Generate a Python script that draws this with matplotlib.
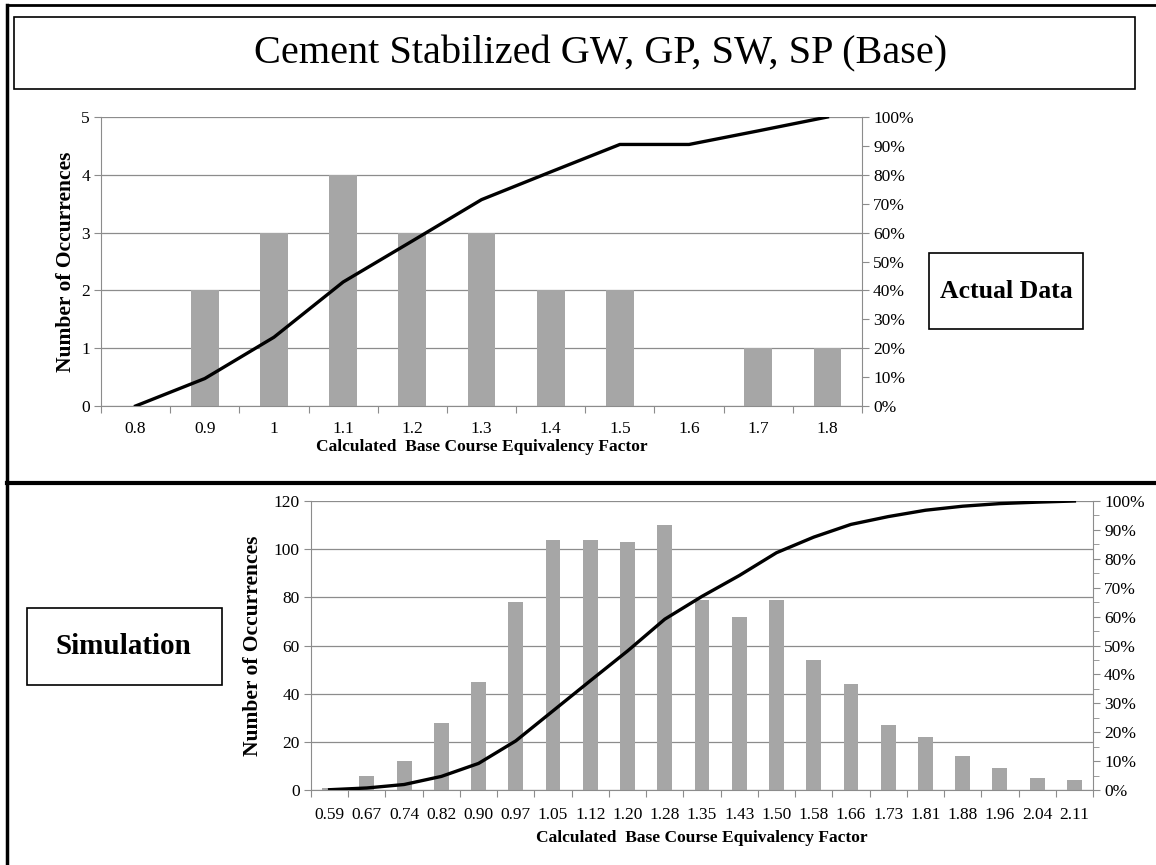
import numpy as np
import matplotlib
matplotlib.use("Agg")
import matplotlib.pyplot as plt
from matplotlib.patches import Rectangle
from matplotlib.lines import Line2D
from matplotlib.ticker import FixedLocator, MultipleLocator, PercentFormatter

plt.rcParams['font.family'] = ['Liberation Serif', 'DejaVu Serif']

# ---- data ----
actual_bins = ["0.8", "0.9", "1", "1.1", "1.2", "1.3", "1.4", "1.5", "1.6", "1.7", "1.8"]
actual_counts = [0, 2, 3, 4, 3, 3, 2, 2, 0, 1, 1]
actual_cum_pct = [0, 9.5, 23.8, 42.9, 57.1, 71.4, 81.0, 90.5, 90.5, 95.2, 100]

sim_bins = ["0.59", "0.67", "0.74", "0.82", "0.90", "0.97", "1.05", "1.12", "1.20", "1.28",
            "1.35", "1.43", "1.50", "1.58", "1.66", "1.73", "1.81", "1.88", "1.96", "2.04", "2.11"]
sim_counts = [1, 6, 12, 28, 45, 78, 104, 104, 103, 110,
              79, 72, 79, 54, 44, 27, 22, 14, 9, 5, 4]
sim_cum_pct = [0.1, 0.7, 1.9, 4.7, 9.2, 17.0, 27.4, 37.8, 48.1, 59.1,
               67.0, 74.2, 82.1, 87.5, 91.9, 94.6, 96.8, 98.2, 99.1, 99.6, 100]

W, H = 1156, 865
BAR = "#a6a6a6"
GRID = "#8c8c8c"
AXC = "#8c8c8c"

fig = plt.figure(figsize=(W / 100, H / 100), dpi=100)


def px_axes(x0, y0, x1, y1):
    # pixel box (top-left origin) -> axes
    return fig.add_axes([x0 / W, 1 - y1 / H, (x1 - x0) / W, (y1 - y0) / H])


def pareto(ax, bins, counts, cum, ymax, ystep, pct_minor, tick_fs, xpad):
    n = len(bins)
    x = np.arange(n)
    ax.bar(x, counts, width=0.4, color=BAR, zorder=2)
    ax.set_xlim(-0.5, n - 0.5)
    ax.set_ylim(0, ymax)
    ax.yaxis.set_major_locator(MultipleLocator(ystep))
    ax.grid(axis="y", color=GRID, lw=0.9, zorder=0)
    ax.set_axisbelow(True)
    # category labels at centres, tick marks on the boundaries
    ax.xaxis.set_major_locator(FixedLocator(np.arange(-0.5, n, 1.0)))
    ax.xaxis.set_minor_locator(FixedLocator(x))
    ax.set_xticklabels([])
    ax.set_xticklabels(bins, minor=True)
    ax.tick_params(axis="x", which="major", length=5, color=AXC, direction="out")
    ax.tick_params(axis="x", which="minor", length=0, pad=xpad, labelsize=tick_fs)
    ax.tick_params(axis="y", length=5, color=AXC, labelsize=tick_fs, pad=3)
    for s in ["top", "right"]:
        ax.spines[s].set_visible(False)
    for s in ["left", "bottom"]:
        ax.spines[s].set_color(AXC)

    ax2 = ax.twinx()
    ax2.plot(x, cum, color="black", lw=2.4, solid_joinstyle="round", zorder=3)
    ax2.set_ylim(0, 100)
    ax2.yaxis.set_major_locator(MultipleLocator(10))
    ax2.yaxis.set_major_formatter(PercentFormatter(decimals=0))
    if pct_minor:
        ax2.yaxis.set_minor_locator(MultipleLocator(5))
        ax2.tick_params(axis="y", which="minor", length=4, color=AXC)
    ax2.tick_params(axis="y", length=5, color=AXC, labelsize=tick_fs, pad=3)
    for s in ["top", "left", "bottom"]:
        ax2.spines[s].set_visible(False)
    ax2.spines["right"].set_color(AXC)
    ax2.set_zorder(ax.get_zorder() + 1)
    ax2.patch.set_visible(False)
    return ax2


# top panel: actual data
ax_top = px_axes(101, 117, 862, 406)
pareto(ax_top, actual_bins, actual_counts, actual_cum_pct, 5, 1, False, 12.5, 11)
ax_top.set_ylabel("Number of Occurrences", fontsize=15.5, fontweight="bold", labelpad=4)
ax_top.set_xlabel("Calculated  Base Course Equivalency Factor", fontsize=12.5,
                  fontweight="bold", labelpad=1)

# bottom panel: simulation
ax_bot = px_axes(311, 501, 1093, 790)
pareto(ax_bot, sim_bins, sim_counts, sim_cum_pct, 120, 20, True, 12.5, 12)
ax_bot.set_ylabel("Number of Occurrences", fontsize=15.5, fontweight="bold", labelpad=8)
ax_bot.set_xlabel("Calculated  Base Course Equivalency Factor", fontsize=12.5,
                  fontweight="bold", labelpad=5)

# slide decorations: frame, separator, title box, side labels
fig.add_artist(Line2D([7 / W, 7 / W], [0, 1 - 5 / H], color="black", lw=2.5))
fig.add_artist(Line2D([7 / W, 1], [1 - 5 / H, 1 - 5 / H], color="black", lw=2))
fig.add_artist(Line2D([7 / W, 1], [1 - 483 / H, 1 - 483 / H], color="black", lw=3))


def box(x0, y0, x1, y1):
    fig.add_artist(Rectangle((x0 / W, 1 - y1 / H), (x1 - x0) / W, (y1 - y0) / H,
                             fill=False, ec="black", lw=1.2))


box(14, 17, 1135, 89)
fig.text(601 / W, 1 - 54 / H, "Cement Stabilized GW, GP, SW, SP (Base)",
         ha="center", va="center", fontsize=29)

box(929, 253, 1083, 329)
fig.text(1006 / W, 1 - 292 / H, "Actual Data", ha="center", va="center",
         fontsize=18.5, fontweight="bold")

box(27, 608, 222, 685)
fig.text(123 / W, 1 - 647 / H, "Simulation", ha="center", va="center",
         fontsize=21, fontweight="bold")

fig.savefig("out.png", dpi=100)
